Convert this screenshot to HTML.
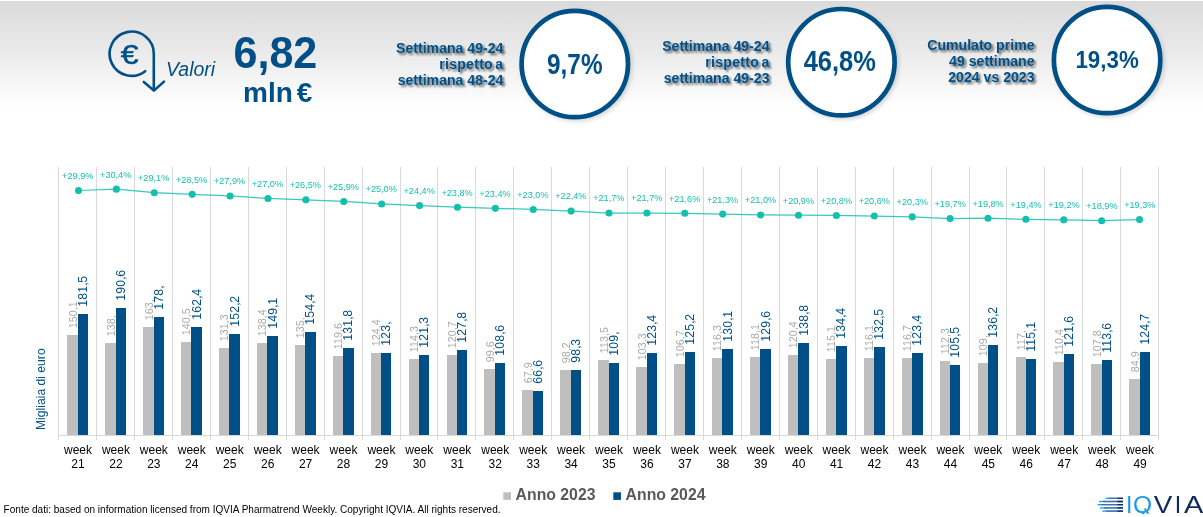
<!DOCTYPE html>
<html lang="it"><head><meta charset="utf-8"><title>Valori</title>
<style>
html,body{margin:0;padding:0;background:#fff}
body{width:1203px;height:517px;overflow:hidden}
svg{display:block}
svg text{font-family:"Liberation Sans",Arial,sans-serif}
</style></head><body>
<svg width="1203" height="517" viewBox="0 0 1203 517">
<defs>
<linearGradient id="hg" x1="0" y1="0" x2="0" y2="1"><stop offset="0" stop-color="#dadada"/><stop offset="0.5" stop-color="#ebebeb"/><stop offset="0.85" stop-color="#f9f9f9"/><stop offset="1" stop-color="#ffffff"/></linearGradient>
<filter id="sh" x="-20%" y="-20%" width="150%" height="150%"><feGaussianBlur in="SourceAlpha" stdDeviation="2"/><feOffset dx="2.2" dy="2.2"/><feComponentTransfer><feFuncA type="linear" slope="0.16"/></feComponentTransfer><feMerge><feMergeNode/><feMergeNode in="SourceGraphic"/></feMerge></filter>
<filter id="ts" x="-10%" y="-30%" width="130%" height="180%"><feGaussianBlur in="SourceAlpha" stdDeviation="1.1"/><feOffset dx="1.6" dy="1.6"/><feComponentTransfer><feFuncA type="linear" slope="0.6"/></feComponentTransfer><feMerge><feMergeNode/><feMergeNode in="SourceGraphic"/></feMerge></filter>
</defs>
<rect x="0" y="1" width="1203" height="106" fill="url(#hg)"/>
<g fill="none" stroke="#005087" stroke-width="2.6" stroke-linecap="round" stroke-linejoin="round">
<path d="M145.2 71.2 A22.1 22.1 0 1 1 153.8 53.7 L153.8 90"/>
<path d="M143.8 82 L153.9 90.6 L164 81.6"/>
</g>
<text transform="translate(129.7 63.9) scale(1.14 1)" font-size="28" text-anchor="middle" fill="#005087" stroke="#005087" stroke-width="0.5">€</text>
<text x="166" y="75.5" font-size="19.5" font-style="italic" fill="#005087">Valori</text>
<text transform="translate(275.4 67.9) scale(0.984 1)" font-size="43.8" font-weight="bold" text-anchor="middle" fill="#005087">6,82</text>
<text x="243" y="102.3" font-size="28" font-weight="bold" fill="#005087">mln</text>
<text x="296.8" y="102.3" font-size="28" font-weight="bold" fill="#005087">€</text>
<circle cx="574.8" cy="64" r="53.2" fill="#fff" stroke="#005087" stroke-width="4.7" filter="url(#sh)"/>
<text transform="translate(574.8 73.6) scale(0.822 1)" font-size="29.6" font-weight="bold" text-anchor="middle" fill="#005087">9,7%</text>
<g filter="url(#ts)" font-size="14.1" font-weight="bold" text-anchor="end" fill="#005087">
<text x="503.4" y="53">Settimana 49-24</text>
<text x="503.4" y="68.7" word-spacing="-1.8" letter-spacing="0.25">rispetto a</text>
<text x="503.4" y="84.7">settimana 48-24</text>
</g>
<circle cx="841.4" cy="62.2" r="53.2" fill="#fff" stroke="#005087" stroke-width="4.7" filter="url(#sh)"/>
<text transform="translate(839.8 71.4) scale(0.866 1)" font-size="29.4" font-weight="bold" text-anchor="middle" fill="#005087">46,8%</text>
<g filter="url(#ts)" font-size="14.1" font-weight="bold" text-anchor="end" fill="#005087">
<text x="769.5" y="51.2">Settimana 49-24</text>
<text x="769.5" y="67.3" word-spacing="-1.8" letter-spacing="0.25">rispetto a</text>
<text x="769.5" y="83">settimana 49-23</text>
</g>
<circle cx="1107.1" cy="60" r="53.2" fill="#fff" stroke="#005087" stroke-width="4.7" filter="url(#sh)"/>
<text transform="translate(1107.1 67.9) scale(0.904 1)" font-size="24.7" font-weight="bold" text-anchor="middle" fill="#005087">19,3%</text>
<g filter="url(#ts)" font-size="14.1" font-weight="bold" text-anchor="end" fill="#005087">
<text x="1034.5" y="50">Cumulato prime</text>
<text x="1034.5" y="65.7">49 settimane</text>
<text x="1034.5" y="81.8">2024 vs 2023</text>
</g>
<g stroke="#d9d9d9" stroke-width="1" fill="none" shape-rendering="crispEdges">
<line x1="58.5" y1="167" x2="58.5" y2="440"/>
<line x1="96.5" y1="167" x2="96.5" y2="440"/>
<line x1="134.5" y1="167" x2="134.5" y2="440"/>
<line x1="172.5" y1="167" x2="172.5" y2="440"/>
<line x1="210.5" y1="167" x2="210.5" y2="440"/>
<line x1="248.5" y1="167" x2="248.5" y2="440"/>
<line x1="286.5" y1="167" x2="286.5" y2="440"/>
<line x1="324.5" y1="167" x2="324.5" y2="440"/>
<line x1="362.5" y1="167" x2="362.5" y2="440"/>
<line x1="400.5" y1="167" x2="400.5" y2="440"/>
<line x1="437.5" y1="167" x2="437.5" y2="440"/>
<line x1="475.5" y1="167" x2="475.5" y2="440"/>
<line x1="513.5" y1="167" x2="513.5" y2="440"/>
<line x1="551.5" y1="167" x2="551.5" y2="440"/>
<line x1="589.5" y1="167" x2="589.5" y2="440"/>
<line x1="627.5" y1="167" x2="627.5" y2="440"/>
<line x1="665.5" y1="167" x2="665.5" y2="440"/>
<line x1="703.5" y1="167" x2="703.5" y2="440"/>
<line x1="741.5" y1="167" x2="741.5" y2="440"/>
<line x1="779.5" y1="167" x2="779.5" y2="440"/>
<line x1="817.5" y1="167" x2="817.5" y2="440"/>
<line x1="855.5" y1="167" x2="855.5" y2="440"/>
<line x1="893.5" y1="167" x2="893.5" y2="440"/>
<line x1="931.5" y1="167" x2="931.5" y2="440"/>
<line x1="969.5" y1="167" x2="969.5" y2="440"/>
<line x1="1006.5" y1="167" x2="1006.5" y2="440"/>
<line x1="1044.5" y1="167" x2="1044.5" y2="440"/>
<line x1="1082.5" y1="167" x2="1082.5" y2="440"/>
<line x1="1120.5" y1="167" x2="1120.5" y2="440"/>
<line x1="1158.5" y1="167" x2="1158.5" y2="440"/>
<line x1="58" y1="435.5" x2="1159" y2="435.5"/>
</g>
<g fill="#bfbfbf">
<rect x="67" y="335" width="11" height="100"/>
<rect x="105" y="343" width="11" height="92"/>
<rect x="143" y="327" width="11" height="108"/>
<rect x="181" y="342" width="10" height="93"/>
<rect x="219" y="348" width="10" height="87"/>
<rect x="257" y="343" width="10" height="92"/>
<rect x="295" y="345" width="10" height="90"/>
<rect x="333" y="356" width="10" height="79"/>
<rect x="371" y="353" width="10" height="82"/>
<rect x="409" y="359" width="10" height="76"/>
<rect x="447" y="355" width="10" height="80"/>
<rect x="484" y="369" width="11" height="66"/>
<rect x="522" y="390" width="11" height="45"/>
<rect x="560" y="370" width="11" height="65"/>
<rect x="598" y="360" width="11" height="75"/>
<rect x="636" y="367" width="11" height="68"/>
<rect x="674" y="364" width="11" height="71"/>
<rect x="712" y="358" width="10" height="77"/>
<rect x="750" y="357" width="10" height="78"/>
<rect x="788" y="355" width="10" height="80"/>
<rect x="826" y="359" width="10" height="76"/>
<rect x="864" y="358" width="10" height="77"/>
<rect x="902" y="358" width="10" height="77"/>
<rect x="940" y="361" width="10" height="74"/>
<rect x="978" y="363" width="10" height="72"/>
<rect x="1016" y="357" width="10" height="78"/>
<rect x="1053" y="362" width="11" height="73"/>
<rect x="1091" y="364" width="11" height="71"/>
<rect x="1129" y="379" width="11" height="56"/>
</g>
<g fill="#005087">
<rect x="78" y="314" width="10" height="121"/>
<rect x="116" y="308" width="10" height="127"/>
<rect x="154" y="317" width="10" height="118"/>
<rect x="191" y="327" width="11" height="108"/>
<rect x="229" y="334" width="11" height="101"/>
<rect x="267" y="336" width="11" height="99"/>
<rect x="305" y="332" width="11" height="103"/>
<rect x="343" y="348" width="11" height="87"/>
<rect x="381" y="353" width="10" height="82"/>
<rect x="419" y="355" width="10" height="80"/>
<rect x="457" y="350" width="10" height="85"/>
<rect x="495" y="363" width="10" height="72"/>
<rect x="533" y="391" width="10" height="44"/>
<rect x="571" y="370" width="10" height="65"/>
<rect x="609" y="363" width="10" height="72"/>
<rect x="647" y="353" width="10" height="82"/>
<rect x="685" y="352" width="10" height="83"/>
<rect x="722" y="349" width="11" height="86"/>
<rect x="760" y="349" width="11" height="86"/>
<rect x="798" y="343" width="11" height="92"/>
<rect x="836" y="346" width="11" height="89"/>
<rect x="874" y="347" width="11" height="88"/>
<rect x="912" y="353" width="11" height="82"/>
<rect x="950" y="365" width="10" height="70"/>
<rect x="988" y="345" width="10" height="90"/>
<rect x="1026" y="359" width="10" height="76"/>
<rect x="1064" y="354" width="10" height="81"/>
<rect x="1102" y="360" width="10" height="75"/>
<rect x="1140" y="352" width="10" height="83"/>
</g>
<g font-size="10.67" fill="#a9a9a9" letter-spacing="0.07">
<text transform="translate(76.65 328.2) rotate(-90)">150,<tspan dx="-0.03">1</tspan></text>
<text transform="translate(114.58 336.2) rotate(-90)">138,</text>
<text transform="translate(152.51 320.2) rotate(-90)">163,</text>
<text transform="translate(190.44 335.2) rotate(-90)">140,<tspan dx="-0.03">5</tspan></text>
<text transform="translate(228.37 341.2) rotate(-90)">131,<tspan dx="-0.03">3</tspan></text>
<text transform="translate(266.3 336.2) rotate(-90)">138,<tspan dx="-0.03">4</tspan></text>
<text transform="translate(304.23 338.2) rotate(-90)">135,</text>
<text transform="translate(342.16 349.2) rotate(-90)">119,<tspan dx="-0.03">6</tspan></text>
<text transform="translate(380.09 346.2) rotate(-90)">124,<tspan dx="-0.03">4</tspan></text>
<text transform="translate(418.02 352.2) rotate(-90)">114,<tspan dx="-0.03">3</tspan></text>
<text transform="translate(455.96 348.2) rotate(-90)">120,<tspan dx="-0.03">7</tspan></text>
<text transform="translate(493.89 362.2) rotate(-90)">99,<tspan dx="-0.03">6</tspan></text>
<text transform="translate(531.82 383.2) rotate(-90)">67,<tspan dx="-0.03">9</tspan></text>
<text transform="translate(569.75 363.2) rotate(-90)">98,<tspan dx="-0.03">2</tspan></text>
<text transform="translate(607.68 353.2) rotate(-90)">113,<tspan dx="-0.03">5</tspan></text>
<text transform="translate(645.61 360.2) rotate(-90)">103,<tspan dx="-0.03">3</tspan></text>
<text transform="translate(683.54 357.2) rotate(-90)">106,<tspan dx="-0.03">7</tspan></text>
<text transform="translate(721.47 351.2) rotate(-90)">116,<tspan dx="-0.03">3</tspan></text>
<text transform="translate(759.4 350.2) rotate(-90)">118,<tspan dx="-0.03">1</tspan></text>
<text transform="translate(797.33 348.2) rotate(-90)">120,<tspan dx="-0.03">4</tspan></text>
<text transform="translate(835.27 352.2) rotate(-90)">115,<tspan dx="-0.03">1</tspan></text>
<text transform="translate(873.2 351.2) rotate(-90)">116,<tspan dx="-0.03">1</tspan></text>
<text transform="translate(911.13 351.2) rotate(-90)">116,<tspan dx="-0.03">7</tspan></text>
<text transform="translate(949.06 354.2) rotate(-90)">112,<tspan dx="-0.03">3</tspan></text>
<text transform="translate(986.99 356.2) rotate(-90)">109,</text>
<text transform="translate(1024.92 350.2) rotate(-90)">117,</text>
<text transform="translate(1062.85 355.2) rotate(-90)">110,<tspan dx="-0.03">4</tspan></text>
<text transform="translate(1100.78 357.2) rotate(-90)">107,<tspan dx="-0.03">8</tspan></text>
<text transform="translate(1138.71 372.2) rotate(-90)">84,<tspan dx="-0.03">9</tspan></text>
</g>
<g font-size="12.2" fill="#005087" letter-spacing="0.2">
<text transform="translate(86.85 306.7) rotate(-90)">181,<tspan dx="-0.6">5</tspan></text>
<text transform="translate(124.78 300.7) rotate(-90)">190,<tspan dx="-0.6">6</tspan></text>
<text transform="translate(162.71 309.7) rotate(-90)">178,</text>
<text transform="translate(200.64 319.7) rotate(-90)">162,<tspan dx="-0.6">4</tspan></text>
<text transform="translate(238.57 326.7) rotate(-90)">152,<tspan dx="-0.6">2</tspan></text>
<text transform="translate(276.5 328.7) rotate(-90)">149,<tspan dx="-0.6">1</tspan></text>
<text transform="translate(314.43 324.7) rotate(-90)">154,<tspan dx="-0.6">4</tspan></text>
<text transform="translate(352.36 340.7) rotate(-90)">131,<tspan dx="-0.6">8</tspan></text>
<text transform="translate(390.29 345.7) rotate(-90)">123,</text>
<text transform="translate(428.22 347.7) rotate(-90)">121,<tspan dx="-0.6">3</tspan></text>
<text transform="translate(466.16 342.7) rotate(-90)">127,<tspan dx="-0.6">8</tspan></text>
<text transform="translate(504.09 355.7) rotate(-90)">108,<tspan dx="-0.6">6</tspan></text>
<text transform="translate(542.02 383.7) rotate(-90)">66,<tspan dx="-0.6">6</tspan></text>
<text transform="translate(579.95 362.7) rotate(-90)">98,<tspan dx="-0.6">3</tspan></text>
<text transform="translate(617.88 355.7) rotate(-90)">109,</text>
<text transform="translate(655.81 345.7) rotate(-90)">123,<tspan dx="-0.6">4</tspan></text>
<text transform="translate(693.74 344.7) rotate(-90)">125,<tspan dx="-0.6">2</tspan></text>
<text transform="translate(731.67 341.7) rotate(-90)">130,<tspan dx="-0.6">1</tspan></text>
<text transform="translate(769.6 341.7) rotate(-90)">129,<tspan dx="-0.6">6</tspan></text>
<text transform="translate(807.53 335.7) rotate(-90)">138,<tspan dx="-0.6">8</tspan></text>
<text transform="translate(845.47 338.7) rotate(-90)">134,<tspan dx="-0.6">4</tspan></text>
<text transform="translate(883.4 339.7) rotate(-90)">132,<tspan dx="-0.6">5</tspan></text>
<text transform="translate(921.33 345.7) rotate(-90)">123,<tspan dx="-0.6">4</tspan></text>
<text transform="translate(959.26 357.7) rotate(-90)">105,<tspan dx="-0.6">5</tspan></text>
<text transform="translate(997.19 337.7) rotate(-90)">136,<tspan dx="-0.6">2</tspan></text>
<text transform="translate(1035.12 351.7) rotate(-90)">115,<tspan dx="-0.6">1</tspan></text>
<text transform="translate(1073.05 346.7) rotate(-90)">121,<tspan dx="-0.6">6</tspan></text>
<text transform="translate(1110.98 352.7) rotate(-90)">113,<tspan dx="-0.6">6</tspan></text>
<text transform="translate(1148.91 344.7) rotate(-90)">124,<tspan dx="-0.6">7</tspan></text>
</g>
<polyline points="78.5,190.5 116.4,189.13 154.29,192.7 192.19,194.34 230.08,195.99 267.98,198.46 305.87,199.83 343.77,201.48 381.66,203.95 419.56,205.6 457.45,207.24 495.35,208.34 533.24,209.44 571.13,211.09 609.03,213.01 646.93,213.01 684.82,213.28 722.72,214.11 760.61,214.93 798.51,215.21 836.4,215.48 874.3,216.03 912.19,216.85 950.09,218.5 987.98,218.22 1025.88,219.32 1063.77,219.87 1101.66,220.69 1139.56,219.6" fill="none" stroke="#14bfad" stroke-width="1.25" stroke-opacity="0.85"/>
<g fill="#14bfad">
<circle cx="78.5" cy="190.5" r="3.55"/>
<circle cx="116.4" cy="189.13" r="3.55"/>
<circle cx="154.29" cy="192.7" r="3.55"/>
<circle cx="192.19" cy="194.34" r="3.55"/>
<circle cx="230.08" cy="195.99" r="3.55"/>
<circle cx="267.98" cy="198.46" r="3.55"/>
<circle cx="305.87" cy="199.83" r="3.55"/>
<circle cx="343.77" cy="201.48" r="3.55"/>
<circle cx="381.66" cy="203.95" r="3.55"/>
<circle cx="419.56" cy="205.6" r="3.55"/>
<circle cx="457.45" cy="207.24" r="3.55"/>
<circle cx="495.35" cy="208.34" r="3.55"/>
<circle cx="533.24" cy="209.44" r="3.55"/>
<circle cx="571.13" cy="211.09" r="3.55"/>
<circle cx="609.03" cy="213.01" r="3.55"/>
<circle cx="646.93" cy="213.01" r="3.55"/>
<circle cx="684.82" cy="213.28" r="3.55"/>
<circle cx="722.72" cy="214.11" r="3.55"/>
<circle cx="760.61" cy="214.93" r="3.55"/>
<circle cx="798.51" cy="215.21" r="3.55"/>
<circle cx="836.4" cy="215.48" r="3.55"/>
<circle cx="874.3" cy="216.03" r="3.55"/>
<circle cx="912.19" cy="216.85" r="3.55"/>
<circle cx="950.09" cy="218.5" r="3.55"/>
<circle cx="987.98" cy="218.22" r="3.55"/>
<circle cx="1025.88" cy="219.32" r="3.55"/>
<circle cx="1063.77" cy="219.87" r="3.55"/>
<circle cx="1101.66" cy="220.69" r="3.55"/>
<circle cx="1139.56" cy="219.6" r="3.55"/>
</g>
<g font-size="9.75" fill="#14bfad" text-anchor="middle">
<text transform="translate(77.75 178.9) scale(0.94 1)">+29,9%</text>
<text transform="translate(115.68 177.53) scale(0.94 1)">+30,4%</text>
<text transform="translate(153.61 181.1) scale(0.94 1)">+29,1%</text>
<text transform="translate(191.54 182.74) scale(0.94 1)">+28,5%</text>
<text transform="translate(229.47 184.39) scale(0.94 1)">+27,9%</text>
<text transform="translate(267.4 186.86) scale(0.94 1)">+27,0%</text>
<text transform="translate(305.33 188.23) scale(0.94 1)">+26,5%</text>
<text transform="translate(343.26 189.88) scale(0.94 1)">+25,9%</text>
<text transform="translate(381.19 192.35) scale(0.94 1)">+25,0%</text>
<text transform="translate(419.12 194) scale(0.94 1)">+24,4%</text>
<text transform="translate(457.06 195.64) scale(0.94 1)">+23,8%</text>
<text transform="translate(494.99 196.74) scale(0.94 1)">+23,4%</text>
<text transform="translate(532.92 197.84) scale(0.94 1)">+23,0%</text>
<text transform="translate(570.85 199.49) scale(0.94 1)">+22,4%</text>
<text transform="translate(608.78 201.41) scale(0.94 1)">+21,7%</text>
<text transform="translate(646.71 201.41) scale(0.94 1)">+21,7%</text>
<text transform="translate(684.64 201.68) scale(0.94 1)">+21,6%</text>
<text transform="translate(722.57 202.51) scale(0.94 1)">+21,3%</text>
<text transform="translate(760.5 203.33) scale(0.94 1)">+21,0%</text>
<text transform="translate(798.43 203.61) scale(0.94 1)">+20,9%</text>
<text transform="translate(836.37 203.88) scale(0.94 1)">+20,8%</text>
<text transform="translate(874.3 204.43) scale(0.94 1)">+20,6%</text>
<text transform="translate(912.23 205.25) scale(0.94 1)">+20,3%</text>
<text transform="translate(950.16 206.9) scale(0.94 1)">+19,7%</text>
<text transform="translate(988.09 206.62) scale(0.94 1)">+19,8%</text>
<text transform="translate(1026.02 207.72) scale(0.94 1)">+19,4%</text>
<text transform="translate(1063.95 208.27) scale(0.94 1)">+19,2%</text>
<text transform="translate(1101.88 209.09) scale(0.94 1)">+18,9%</text>
<text transform="translate(1139.81 208) scale(0.94 1)">+19,3%</text>
</g>
<g font-size="12" fill="#000" text-anchor="middle">
<text x="78" y="454">week</text><text x="78" y="468">21</text>
<text x="115.93" y="454">week</text><text x="115.93" y="468">22</text>
<text x="153.86" y="454">week</text><text x="153.86" y="468">23</text>
<text x="191.79" y="454">week</text><text x="191.79" y="468">24</text>
<text x="229.72" y="454">week</text><text x="229.72" y="468">25</text>
<text x="267.65" y="454">week</text><text x="267.65" y="468">26</text>
<text x="305.58" y="454">week</text><text x="305.58" y="468">27</text>
<text x="343.51" y="454">week</text><text x="343.51" y="468">28</text>
<text x="381.44" y="454">week</text><text x="381.44" y="468">29</text>
<text x="419.37" y="454">week</text><text x="419.37" y="468">30</text>
<text x="457.31" y="454">week</text><text x="457.31" y="468">31</text>
<text x="495.24" y="454">week</text><text x="495.24" y="468">32</text>
<text x="533.17" y="454">week</text><text x="533.17" y="468">33</text>
<text x="571.1" y="454">week</text><text x="571.1" y="468">34</text>
<text x="609.03" y="454">week</text><text x="609.03" y="468">35</text>
<text x="646.96" y="454">week</text><text x="646.96" y="468">36</text>
<text x="684.89" y="454">week</text><text x="684.89" y="468">37</text>
<text x="722.82" y="454">week</text><text x="722.82" y="468">38</text>
<text x="760.75" y="454">week</text><text x="760.75" y="468">39</text>
<text x="798.68" y="454">week</text><text x="798.68" y="468">40</text>
<text x="836.62" y="454">week</text><text x="836.62" y="468">41</text>
<text x="874.55" y="454">week</text><text x="874.55" y="468">42</text>
<text x="912.48" y="454">week</text><text x="912.48" y="468">43</text>
<text x="950.41" y="454">week</text><text x="950.41" y="468">44</text>
<text x="988.34" y="454">week</text><text x="988.34" y="468">45</text>
<text x="1026.27" y="454">week</text><text x="1026.27" y="468">46</text>
<text x="1064.2" y="454">week</text><text x="1064.2" y="468">47</text>
<text x="1102.13" y="454">week</text><text x="1102.13" y="468">48</text>
<text x="1140.06" y="454">week</text><text x="1140.06" y="468">49</text>
</g>
<text transform="translate(45 430) rotate(-90)" font-size="12.15" fill="#005087">Migliaia di euro</text>
<rect x="503.3" y="492.3" width="7.7" height="7.6" fill="#bfbfbf"/>
<rect x="613.3" y="492.3" width="7.7" height="7.6" fill="#005087"/>
<g font-size="15.8" font-weight="bold" fill="#595959"><text x="515.6" y="499.6">Anno 2023</text><text x="625.6" y="499.6">Anno 2024</text></g>
<text x="3.6" y="513" font-size="10.04" fill="#000">Fonte dati: based on information licensed from IQVIA Pharmatrend Weekly. Copyright IQVIA. All rights reserved.</text>
<g id="logo">
<g stroke-width="1.3" fill="none" transform="translate(0 0.8)"><path d="M1105.5 497.5H1123" stroke="#1f9ae0"/><path d="M1099 500.7H1123" stroke="#1f9ae0"/><path d="M1097.5 503.9H1123" stroke="#1f9ae0"/><path d="M1100 507.1H1123" stroke="#1f9ae0"/><path d="M1102.3 510.3H1123" stroke="#1f9ae0"/>
<path d="M1109 497.5H1123M1103 500.7H1123M1101 503.9H1123M1104 507.1H1123M1106 510.3H1123" stroke="#4a6fa5"/><path d="M1117.5 497.5H1123M1117.5 500.7H1123M1117.5 503.9H1123M1117.5 507.1H1123M1117.5 510.3H1123" stroke="#10295c"/></g>
<clipPath id="lc"><rect x="1120" y="490" width="90" height="24.2"/></clipPath>
<g clip-path="url(#lc)"><g font-size="23.2" fill="#1f9ae0"><text x="1126" y="512.5">I</text><text transform="translate(1132.9 512.5) scale(1.06 1)">Q</text><path d="M1144.6 508.6L1148.4 513.6" stroke="#1f9ae0" stroke-width="1.9" fill="none"/></g>
<g font-size="23.2" fill="#10295c"><text transform="translate(1153.7 512.5) scale(1.2 1)">V</text><text x="1174.8" y="512.5">I</text><text transform="translate(1183.9 512.5) scale(1.25 1)">A</text></g></g>
</g>
</svg></body></html>
